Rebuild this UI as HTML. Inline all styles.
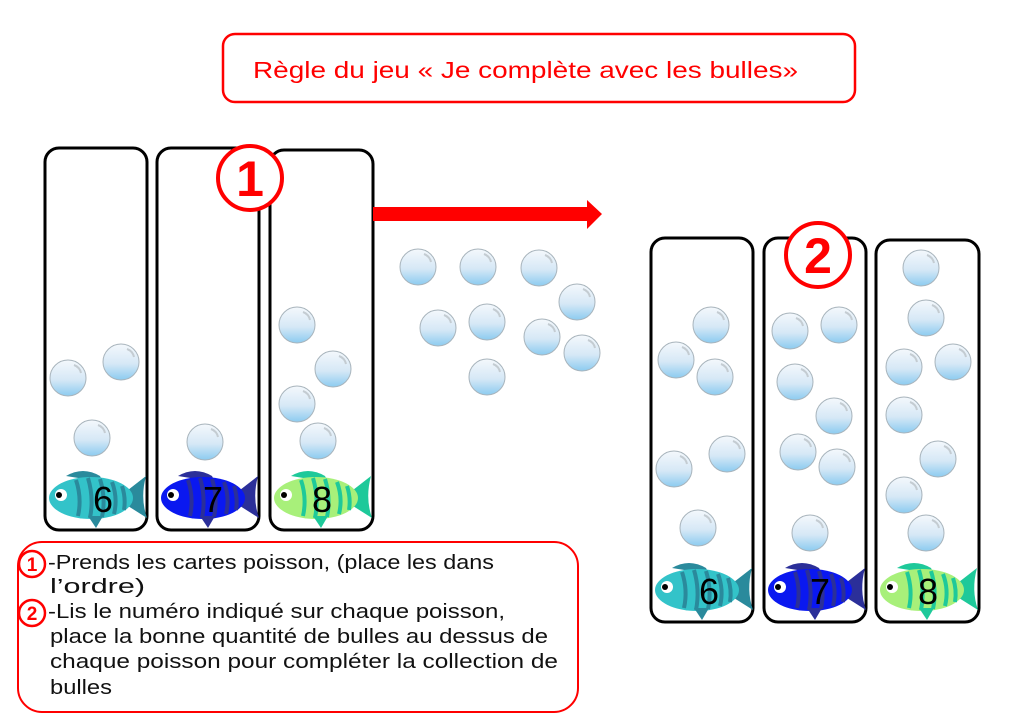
<!DOCTYPE html>
<html><head><meta charset="utf-8"><style>
html,body{margin:0;padding:0;background:#fff;}
svg{display:block;}
</style></head><body>
<svg width="1024" height="724" viewBox="0 0 1024 724" xmlns="http://www.w3.org/2000/svg" font-family="Liberation Sans, sans-serif">
<defs>
<linearGradient id="bg" x1="0" y1="0" x2="0" y2="1">
<stop offset="0" stop-color="#f4f8fc"/><stop offset="0.55" stop-color="#d6e8f6"/><stop offset="1" stop-color="#8ccbf0"/>
</linearGradient>
<g id="b"><circle r="18" fill="url(#bg)" stroke="#a8b4bc" stroke-width="1"/><path d="M6,-13 A11,11 0 0 1 13,-5" stroke="#c4ccd2" stroke-width="2" fill="none"/></g>
<g id="fish">
<path d="M18,8 Q35,-2 52,8 L55,14 Z" fill="var(--d)"/>
<path d="M80,22 L98,8 Q92,30 99,50 L80,38 Z" fill="var(--d)"/>
<ellipse cx="43" cy="30" rx="42" ry="21" fill="var(--c)"/>
<path d="M28,12 Q34,30 30,48 M40,10 Q46,30 42,50 M52,11 Q58,30 54,49 M64,14 Q70,30 66,46 M74,18 Q78,30 76,42" stroke="var(--d)" stroke-width="4" fill="none"/>
<path d="M40,48 L48,60 L55,48 Z" fill="var(--d)"/>
<circle cx="13" cy="27" r="6" fill="#fff"/><circle cx="11" cy="27" r="3" fill="#000"/>
</g>
</defs>

<rect x="223" y="34" width="632" height="68" rx="12" fill="none" stroke="#f00" stroke-width="2.5"/>
<text x="253" y="78" font-size="23" fill="#f00" textLength="545" lengthAdjust="spacingAndGlyphs">Règle  du jeu  « Je complète avec les bulles»</text>

<g fill="#fff" stroke="#000" stroke-width="3">
<rect x="45" y="148" width="102" height="382" rx="14"/>
<rect x="157" y="148" width="102" height="382" rx="14"/>
<rect x="270" y="150" width="103" height="380" rx="14"/>
<rect x="651" y="238" width="102" height="384" rx="14"/>
<rect x="764" y="238" width="102" height="384" rx="14"/>
<rect x="876" y="240" width="103" height="382" rx="14"/>
</g>

<circle cx="250" cy="178" r="32" fill="#fff" stroke="#f00" stroke-width="4"/>
<text x="250" y="196" font-size="50" font-weight="bold" fill="#f00" text-anchor="middle">1</text>
<circle cx="818" cy="255" r="32" fill="#fff" stroke="#f00" stroke-width="4"/>
<text x="818" y="273" font-size="50" font-weight="bold" fill="#f00" text-anchor="middle">2</text>

<path d="M373,207 L587,207 L587,200 L602,214 L587,229 L587,221 L373,221 Z" fill="#f00"/>

<g>
<use href="#b" x="68" y="378"/><use href="#b" x="121" y="362"/><use href="#b" x="92" y="438"/>
<use href="#b" x="205" y="442"/>
<use href="#b" x="297" y="325"/><use href="#b" x="333" y="369"/><use href="#b" x="297" y="404"/><use href="#b" x="318" y="441"/>
<use href="#b" x="418" y="267"/><use href="#b" x="478" y="267"/><use href="#b" x="539" y="268"/><use href="#b" x="577" y="302"/>
<use href="#b" x="438" y="328"/><use href="#b" x="487" y="322"/><use href="#b" x="542" y="337"/><use href="#b" x="582" y="353"/><use href="#b" x="487" y="377"/>
<use href="#b" x="711" y="325"/><use href="#b" x="676" y="360"/><use href="#b" x="715" y="377"/><use href="#b" x="674" y="469"/><use href="#b" x="727" y="454"/><use href="#b" x="698" y="528"/>
<use href="#b" x="790" y="331"/><use href="#b" x="839" y="325"/><use href="#b" x="795" y="382"/><use href="#b" x="834" y="416"/><use href="#b" x="798" y="452"/><use href="#b" x="837" y="467"/><use href="#b" x="810" y="533"/>
<use href="#b" x="921" y="268"/><use href="#b" x="926" y="318"/><use href="#b" x="904" y="367"/><use href="#b" x="953" y="362"/><use href="#b" x="904" y="415"/><use href="#b" x="938" y="459"/><use href="#b" x="904" y="495"/><use href="#b" x="926" y="533"/>
</g>

<g font-size="36" fill="#000" text-anchor="middle">
<use href="#fish" x="48" y="468" style="--c:#33c3c9;--d:#2a8a9c"/><text x="103" y="512">6</text>
<use href="#fish" x="160" y="468" style="--c:#0a18f0;--d:#2b2f99"/><text x="213" y="512">7</text>
<use href="#fish" x="273" y="468" style="--c:#a8f07a;--d:#1ec99a"/><text x="322" y="512">8</text>
<use href="#fish" x="654" y="560" style="--c:#33c3c9;--d:#2a8a9c"/><text x="709" y="604">6</text>
<use href="#fish" x="767" y="560" style="--c:#0a18f0;--d:#2b2f99"/><text x="820" y="604">7</text>
<use href="#fish" x="879" y="560" style="--c:#a8f07a;--d:#1ec99a"/><text x="928" y="604">8</text>
</g>

<rect x="18" y="542" width="560" height="170" rx="24" fill="#fff" stroke="#f00" stroke-width="2"/>
<circle cx="32" cy="564" r="13" fill="#fff" stroke="#f00" stroke-width="2.5"/>
<text x="32" y="571" font-size="19" font-weight="bold" fill="#f00" text-anchor="middle">1</text>
<circle cx="32" cy="613" r="13" fill="#fff" stroke="#f00" stroke-width="2.5"/>
<text x="32" y="620" font-size="19" font-weight="bold" fill="#f00" text-anchor="middle">2</text>
<g font-size="20" fill="#111">
<text x="48" y="569" textLength="446" lengthAdjust="spacingAndGlyphs">-Prends les cartes poisson, (place les dans</text>
<text x="50" y="593" textLength="95" lengthAdjust="spacingAndGlyphs">l’ordre)</text>
<text x="48" y="618" textLength="457" lengthAdjust="spacingAndGlyphs">-Lis le numéro indiqué sur chaque poisson,</text>
<text x="50" y="643" textLength="498" lengthAdjust="spacingAndGlyphs">place la bonne quantité de bulles au dessus de</text>
<text x="50" y="668" textLength="508" lengthAdjust="spacingAndGlyphs">chaque poisson pour compléter la collection de</text>
<text x="50" y="694" textLength="62" lengthAdjust="spacingAndGlyphs">bulles</text>
</g>
</svg>
</body></html>
